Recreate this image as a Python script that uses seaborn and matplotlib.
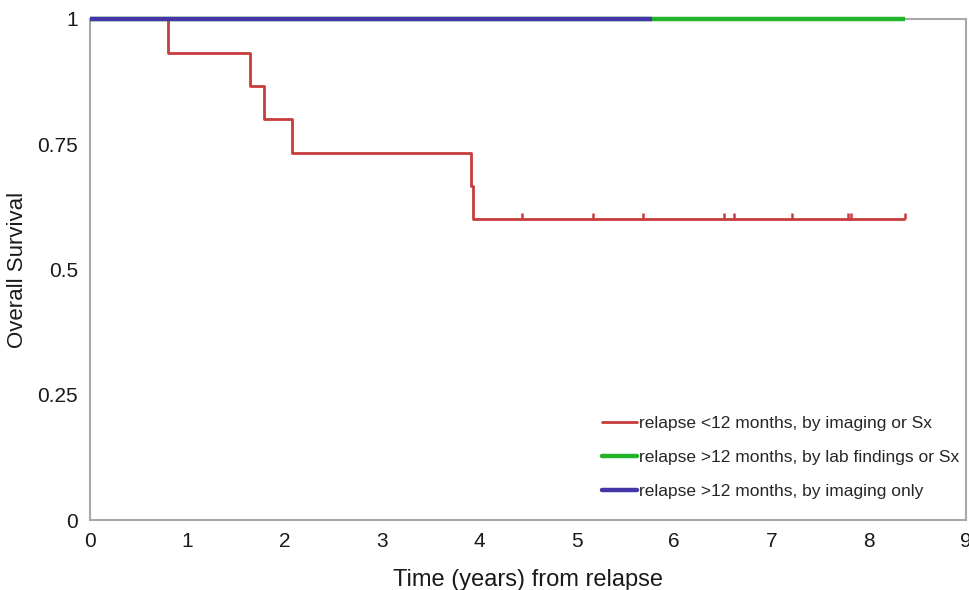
import numpy as np
import pandas as pd
import seaborn as sns
import matplotlib.pyplot as plt

# Kaplan-Meier curves
red_time = [0, 0.80, 1.64, 1.79, 2.08, 3.91, 3.93, 8.37]
red_surv = [1, 0.933, 0.867, 0.800, 0.733, 0.667, 0.600, 0.600]
red_censor = [4.44, 5.17, 5.68, 6.51, 6.62, 7.21, 7.79, 7.82, 8.37]

green_time = [0, 8.37]
green_surv = [1, 1]

blue_time = [0, 5.77]
blue_surv = [1, 1]

labels = ["relapse <12 months, by imaging or Sx",
          "relapse >12 months, by lab findings or Sx",
          "relapse >12 months, by imaging only"]
x_ticks = list(range(0, 10))
y_ticks = [0, 0.25, 0.5, 0.75, 1]
y_ticklabels = ["0", "0.25", "0.5", "0.75", "1"]

red = "#c83c3c"
green = "#22b428"
blue = "#4536a8"
gray = "#a8a8a8"

sns.set_style("white")
plt.rcParams['font.family'] = ['Liberation Sans Narrow', 'Liberation Sans', 'DejaVu Sans']

fig = plt.figure(figsize=(9.69, 5.9), dpi=100)
ax = fig.add_axes([90 / 969, 70 / 590, 876 / 969, 501 / 590])

# red underneath, then green, blue on top (as in the original)
sns.lineplot(x=red_time, y=red_surv, drawstyle='steps-post', estimator=None,
             sort=False, color=red, lw=2.0, ax=ax, label=labels[0], zorder=2)
sns.scatterplot(x=red_censor, y=[red_surv[-1]] * len(red_censor), marker=2,
                s=16, color=red, linewidth=1.8, ax=ax, zorder=2)
sns.lineplot(x=green_time, y=green_surv, drawstyle='steps-post', estimator=None,
             sort=False, color=green, lw=3.2, ax=ax, label=labels[1], zorder=3)
sns.lineplot(x=blue_time, y=blue_surv, drawstyle='steps-post', estimator=None,
             sort=False, color=blue, lw=3.2, ax=ax, label=labels[2], zorder=4)
for ln in ax.get_lines():
    ln.set_clip_on(False)
    ln.set_solid_capstyle('butt')

ax.set_xlim(0, 9)
ax.set_ylim(0, 1)
ax.set_xticks(x_ticks)
ax.set_yticks(y_ticks)
ax.set_yticklabels(y_ticklabels)
ax.tick_params(axis='both', labelsize=15, colors=gray, labelcolor='#1a1a1a',
               length=3, width=1, direction='inout', pad=7)
for s in ax.spines.values():
    s.set_color(gray)
    s.set_linewidth(1.5)
    s.set_visible(True)
    s.set_zorder(1)

ax.set_xlabel("Time (years) from relapse", fontsize=17, color='#1a1a1a', labelpad=13)
ax.set_ylabel("Overall Survival", fontsize=16, color='#1a1a1a', labelpad=7)

h, l = ax.get_legend_handles_labels()
order = [l.index(t) for t in labels]
leg = ax.legend([h[i] for i in order], [l[i] for i in order], loc='lower right',
                bbox_to_anchor=(1.01, 0.01), frameon=False, fontsize=12.5,
                handlelength=2.0, handletextpad=0.1, labelspacing=1.1)
for lh in leg.get_lines():
    lh.set_solid_capstyle('round')

fig.savefig("out.png", dpi=100)
